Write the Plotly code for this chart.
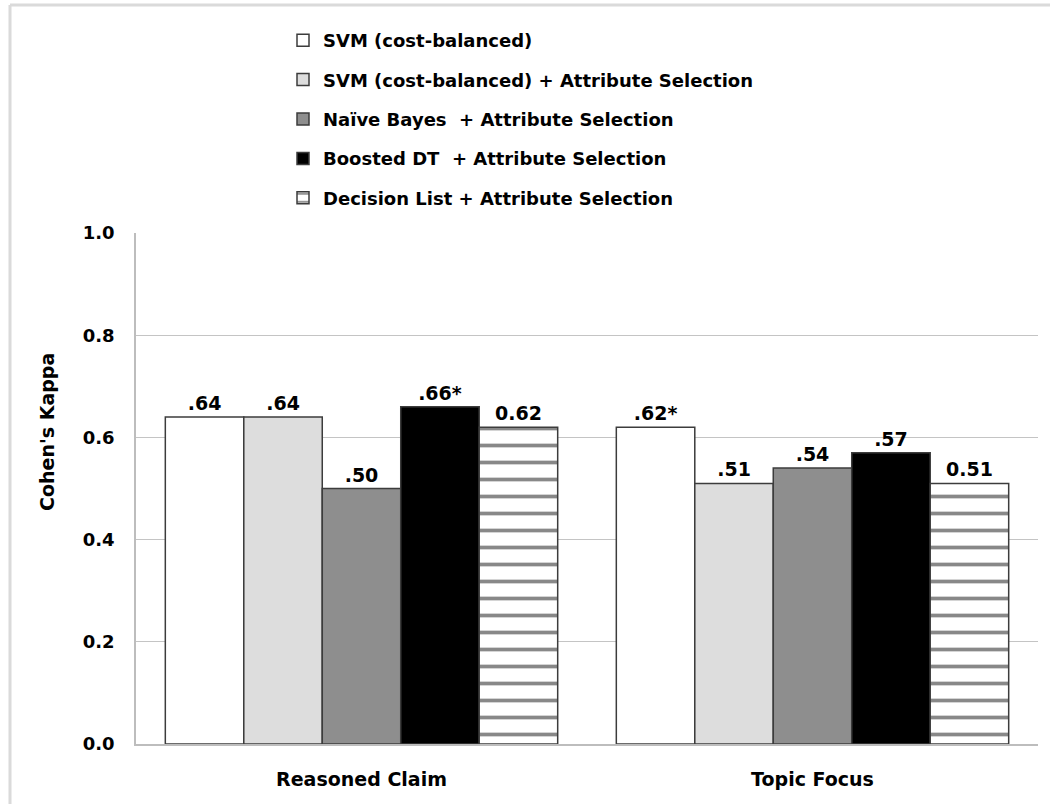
import plotly.graph_objects as go

# Data
categories = ["Reasoned Claim", "Topic Focus"]
series_names = [
    "SVM (cost-balanced)",
    "SVM (cost-balanced) + Attribute Selection",
    "Naïve Bayes  + Attribute Selection",
    "Boosted DT  + Attribute Selection",
    "Decision List + Attribute Selection",
]
svm_cb = [0.64, 0.62]
svm_cb_as = [0.64, 0.51]
naive_bayes_as = [0.50, 0.54]
boosted_dt_as = [0.66, 0.57]
decision_list_as = [0.62, 0.51]
series_values = [svm_cb, svm_cb_as, naive_bayes_as, boosted_dt_as, decision_list_as]

# Value labels printed above each bar
svm_cb_labels = [".64", ".62*"]
svm_cb_as_labels = [".64", ".51"]
naive_bayes_as_labels = [".50", ".54"]
boosted_dt_as_labels = [".66*", ".57"]
decision_list_as_labels = ["0.62", "0.51"]
series_labels = [svm_cb_labels, svm_cb_as_labels, naive_bayes_as_labels,
                 boosted_dt_as_labels, decision_list_as_labels]

y_tick_vals = [0.0, 0.2, 0.4, 0.6, 0.8, 1.0]

FONT = "DejaVu Sans, Verdana, sans-serif"
fills = ["#ffffff", "#dddddd", "#8e8e8e", "#000000", "#ffffff"]
OUTLINE = "#3c3c3c"

W, H = 1050, 804
ML, MR, MT, MB = 136, 12, 233, 60
PW, PH = W - ML - MR, H - MT - MB


def px_x(px):
    return (px - ML) / PW


def px_y(py):
    return (H - MB - py) / PH


fig = go.Figure()
for i, (name, vals, labels) in enumerate(zip(series_names, series_values, series_labels)):
    marker = dict(color=fills[i], line=dict(color=OUTLINE, width=1.5))
    if i == 4:
        marker["pattern"] = dict(shape="-", size=17, solidity=0.22,
                                 fgcolor="#111111", bgcolor="#ffffff",
                                 fillmode="overlay")
    fig.add_trace(go.Bar(
        x=categories, y=vals, name=name, marker=marker,
        text=labels, textposition="outside", cliponaxis=False,
        textfont=dict(family=FONT, size=19, color="#000000", weight="bold"),
        legendgroup=f"g{i}",
    ))

fig.update_layout(
    width=W, height=H,
    margin=dict(l=ML, r=MR, t=MT, b=MB),
    paper_bgcolor="#ffffff", plot_bgcolor="#ffffff",
    barmode="group", bargap=0.13, bargroupgap=0,
    font=dict(family=FONT, size=18, color="#000000", weight="bold"),
    showlegend=True,
    legend=dict(
        x=px_x(283), y=px_y(22), xanchor="left", yanchor="top",
        tracegroupgap=13, traceorder="grouped",
        font=dict(family=FONT, size=18, color="#000000", weight="bold"),
        bgcolor="rgba(0,0,0,0)", itemwidth=30,
    ),
    xaxis=dict(
        showline=True, linecolor="#bdbdbd", linewidth=1.5,
        ticks="", ticklabelstandoff=17,
        tickfont=dict(family=FONT, size=19, color="#000000", weight="bold"),
    ),
    yaxis=dict(
        range=[0, 1], tickvals=y_tick_vals, tickformat=".1f",
        showgrid=True, gridcolor="#c4c4c4", gridwidth=1.2,
        showline=True, linecolor="#bdbdbd", linewidth=1.5,
        zeroline=False, ticks="", ticklabelstandoff=16,
        tickfont=dict(family=FONT, size=18, color="#000000", weight="bold"),
    ),
)

# Y axis title
fig.add_annotation(
    text="Cohen's Kappa", textangle=-90,
    xref="paper", yref="paper", x=px_x(47), y=px_y(432),
    xanchor="center", yanchor="middle", showarrow=False,
    font=dict(family=FONT, size=19, color="#000000", weight="bold"),
)

# Light frame along the top and left edges
frame = dict(color="#dadada", width=3)
fig.add_shape(type="line", xref="paper", yref="paper",
              x0=px_x(10), x1=px_x(1060), y0=px_y(5), y1=px_y(5), line=frame)
fig.add_shape(type="line", xref="paper", yref="paper",
              x0=px_x(10), x1=px_x(10), y0=px_y(5), y1=px_y(820), line=frame)

fig.write_html("out.html")
